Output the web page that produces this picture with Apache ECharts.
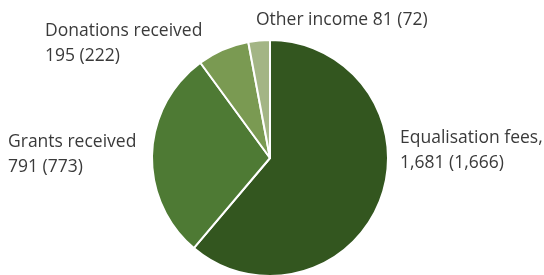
<!DOCTYPE html>
<html>
<head>
<meta charset="utf-8">
<script src="https://cdn.jsdelivr.net/npm/echarts@6/dist/echarts.min.js"></script>
<style>
  html, body { margin: 0; padding: 0; background: #fff; }
  #income_pie { width: 544px; height: 275px; }
</style>
</head>
<body>
<div id="income_pie"></div>
<script>
    // income split, current year (previous year in brackets)
    var categories = ['Equalisation fees,', 'Grants received', 'Donations received', 'Other income'];
    var values = [1681, 791, 195, 81];
    var prevValues = [1666, 773, 222, 72];
    var colors = ['#33561f', '#4e7a34', '#7a9a52', '#a3b585'];
    // label anchor points (left edge, middle of first line)
    var labelPos = [[400, 138], [8, 142], [45, 31], [256, 20]];

    function fmt(n) {
        return n.toString().replace(/\B(?=(\d{3})+(?!\d))/g, ',');
    }

    var data = categories.map(function (name, i) {
        var sep = (i == 3) ? ' ' : '\n';
        return {
            name: name,
            value: values[i],
            itemStyle: { color: colors[i] },
            label: { formatter: name + sep + fmt(values[i]) + ' (' + fmt(prevValues[i]) + ')' }
        };
    });

    const option = {
        animation: false,
        series: [
        {
            type: 'pie',
            center: [270, 158],
            radius: 118,
            startAngle: 90,
            clockwise: true,
            itemStyle: {
                borderColor: '#fff',
                borderWidth: 2
            },
            label: {
                show: true,
                position: 'outside',
                color: '#3a3a3a',
                fontFamily: 'Open Sans',
                fontSize: 17.5,
                lineHeight: 25,
                align: 'left',
                overflow: 'none'
            },
            labelLine: { show: false },
            labelLayout: function (params) {
                var p = labelPos[params.dataIndex];
                return { x: p[0], y: p[1] - 12.5, align: 'left', verticalAlign: 'top' };
            },
            data: data
        }
        ]
    };
    const chart = echarts.init(document.getElementById('income_pie'));
    chart.setOption(option);
</script>
</body>
</html>
